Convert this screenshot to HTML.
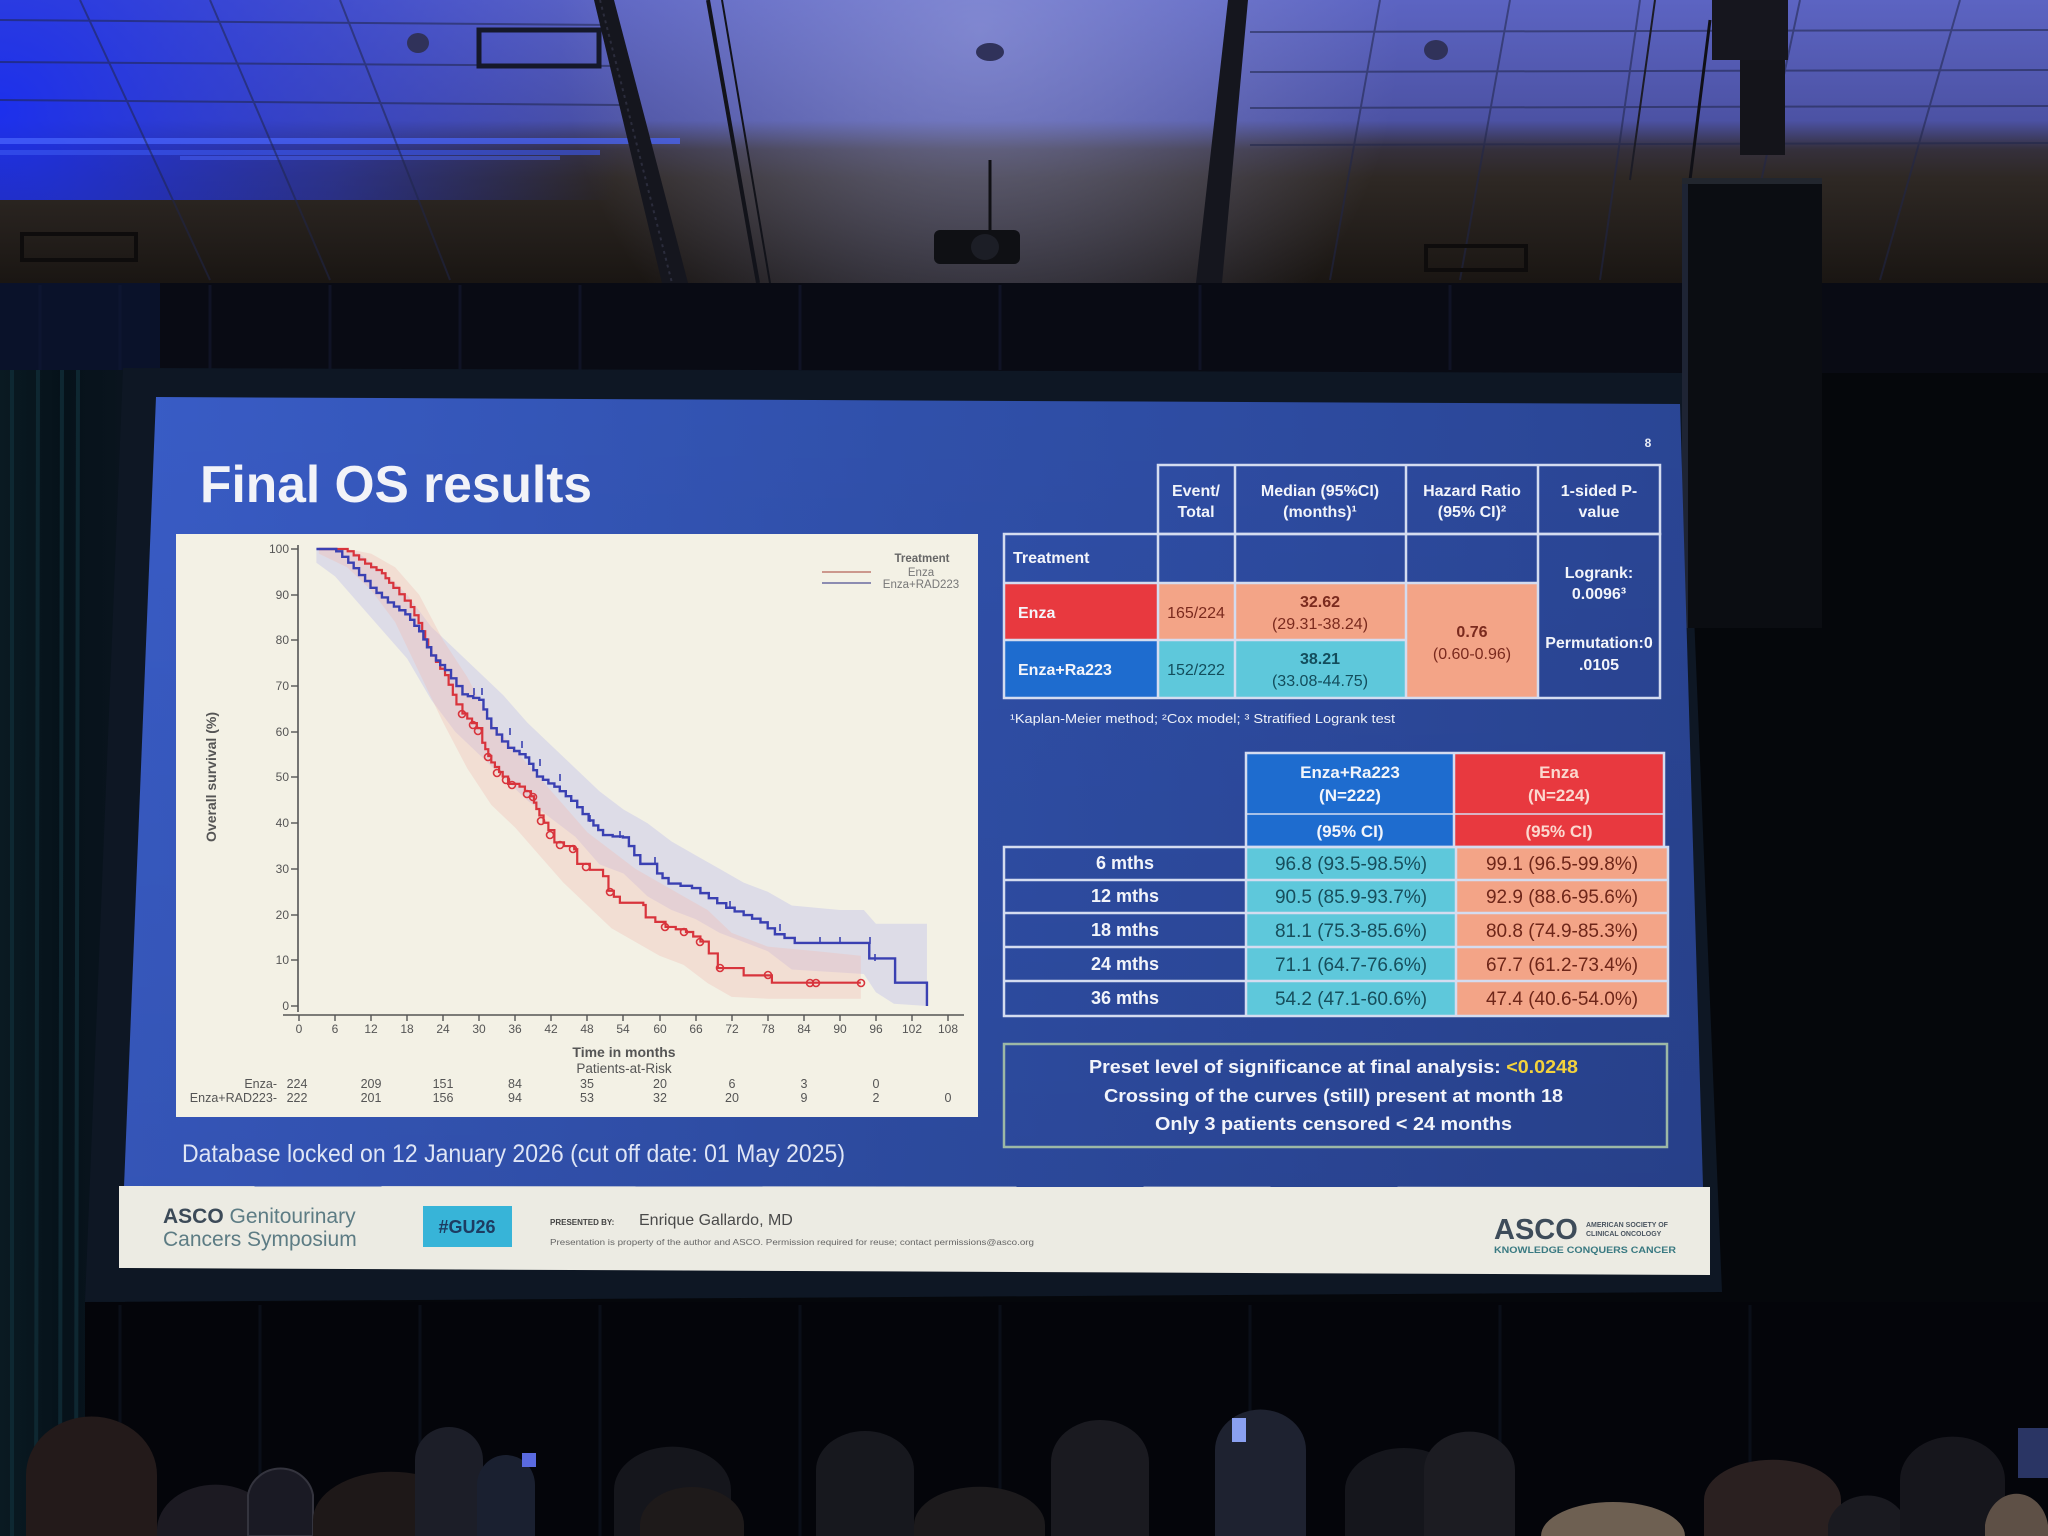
<!DOCTYPE html>
<html>
<head>
<meta charset="utf-8">
<style>
  html,body{margin:0;padding:0;background:#05070b;}
  svg{display:block;}
  text{font-family:"Liberation Sans", Arial, sans-serif;}
</style>
</head>
<body>
<svg width="2048" height="1536" viewBox="0 0 2048 1536" xmlns="http://www.w3.org/2000/svg">
<defs>
  <linearGradient id="ceil" x1="0" y1="0" x2="0" y2="1">
    <stop offset="0" stop-color="#5c64c2"/>
    <stop offset="0.42" stop-color="#4c52a4"/>
    <stop offset="0.52" stop-color="#35303c"/>
    <stop offset="0.62" stop-color="#2e2824"/>
    <stop offset="1" stop-color="#191512"/>
  </linearGradient>
  <radialGradient id="leftBlue" cx="0" cy="110" r="620" gradientUnits="userSpaceOnUse">
    <stop offset="0" stop-color="#1a2ef0" stop-opacity="0.95"/>
    <stop offset="0.55" stop-color="#2a3ad8" stop-opacity="0.55"/>
    <stop offset="1" stop-color="#2a3ad8" stop-opacity="0"/>
  </radialGradient>
  <radialGradient id="midLight" cx="980" cy="30" r="420" gradientUnits="userSpaceOnUse">
    <stop offset="0" stop-color="#a0a6e0" stop-opacity="0.55"/>
    <stop offset="1" stop-color="#a0a6e0" stop-opacity="0"/>
  </radialGradient>
  <linearGradient id="slideBlue" x1="0" y1="0" x2="1" y2="0">
    <stop offset="0" stop-color="#395cc6"/>
    <stop offset="0.5" stop-color="#3050aa"/>
    <stop offset="1" stop-color="#2a4594"/>
  </linearGradient>
  <linearGradient id="slideV" x1="0" y1="0" x2="0" y2="1">
    <stop offset="0" stop-color="#000" stop-opacity="0"/>
    <stop offset="1" stop-color="#000" stop-opacity="0.08"/>
  </linearGradient>
  <linearGradient id="curtL" x1="0" y1="0" x2="1" y2="0">
    <stop offset="0" stop-color="#0a1a22"/>
    <stop offset="0.5" stop-color="#06121a"/>
    <stop offset="1" stop-color="#0a141e"/>
  </linearGradient>
</defs>

<!-- base background -->
<rect x="0" y="0" width="2048" height="1536" fill="#05070b"/>

<!-- ceiling -->
<rect x="0" y="0" width="2048" height="287" fill="url(#ceil)"/>
<rect x="0" y="0" width="2048" height="287" fill="url(#midLight)"/>
<rect x="0" y="0" width="900" height="200" fill="url(#leftBlue)"/>
<!-- glare streaks -->
<rect x="0" y="138" width="680" height="6" fill="#4a66ff" opacity="0.7"/>
<rect x="0" y="150" width="600" height="5" fill="#3c58f0" opacity="0.6"/>
<rect x="180" y="156" width="380" height="4" fill="#4a66ff" opacity="0.5"/>
<!-- ceiling tile lines -->
<g stroke="#20264a" stroke-width="2" opacity="0.55">
  <line x1="0" y1="20" x2="610" y2="25"/>
  <line x1="0" y1="62" x2="620" y2="66"/>
  <line x1="0" y1="100" x2="620" y2="105"/>
  <line x1="1250" y1="32" x2="2048" y2="30"/>
  <line x1="1250" y1="72" x2="2048" y2="70"/>
  <line x1="1250" y1="108" x2="2048" y2="106"/>
  <line x1="1250" y1="145" x2="2048" y2="143"/>
  <line x1="80" y1="0" x2="210" y2="280"/>
  <line x1="210" y1="0" x2="330" y2="280"/>
  <line x1="340" y1="0" x2="450" y2="280"/>
  <line x1="1380" y1="0" x2="1330" y2="280"/>
  <line x1="1510" y1="0" x2="1460" y2="280"/>
  <line x1="1640" y1="0" x2="1600" y2="280"/>
  <line x1="1800" y1="0" x2="1740" y2="280"/>
  <line x1="1960" y1="0" x2="1880" y2="280"/>
</g>
<!-- ceiling fixtures -->
<rect x="479" y="30" width="120" height="36" fill="none" stroke="#15182a" stroke-width="5"/>
<ellipse cx="418" cy="43" rx="11" ry="10" fill="#30325a"/>
<ellipse cx="990" cy="52" rx="14" ry="9" fill="#30325a"/>
<ellipse cx="1436" cy="50" rx="12" ry="10" fill="#30325a"/>
<rect x="22" y="234" width="114" height="26" fill="none" stroke="#0e0c0c" stroke-width="4"/>
<rect x="1426" y="246" width="100" height="24" fill="none" stroke="#0e0c0c" stroke-width="4"/>
<!-- trusses -->
<path d="M594 0 L614 0 L688 283 L662 283 Z" fill="#15161e"/>
<g stroke="#3a3c50" stroke-width="2" opacity="0.6">
  <line x1="600" y1="0" x2="672" y2="283" stroke-dasharray="3 4"/>
</g>
<line x1="708" y1="0" x2="758" y2="283" stroke="#12131a" stroke-width="4"/>
<line x1="722" y1="0" x2="770" y2="283" stroke="#12131a" stroke-width="2"/>
<path d="M1228 0 L1248 0 L1222 283 L1196 283 Z" fill="#15161e"/>
<!-- projector -->
<line x1="990" y1="160" x2="990" y2="235" stroke="#101014" stroke-width="3"/>
<rect x="934" y="230" width="86" height="34" rx="6" fill="#0f1014"/>
<ellipse cx="985" cy="247" rx="14" ry="13" fill="#1c1e26"/>
<!-- hanging speaker top -->
<rect x="1712" y="0" width="76" height="60" fill="#16161e"/>
<rect x="1740" y="60" width="45" height="95" fill="#14141a"/>
<line x1="1710" y1="20" x2="1690" y2="180" stroke="#101016" stroke-width="3"/>
<line x1="1655" y1="0" x2="1630" y2="180" stroke="#1c1c26" stroke-width="2"/>

<!-- curtain band -->
<rect x="0" y="283" width="2048" height="90" fill="#090b14"/>
<g stroke="#12162a" stroke-width="3" opacity="0.8">
  <line x1="40" y1="285" x2="40" y2="370"/><line x1="120" y1="285" x2="120" y2="370"/>
  <line x1="210" y1="285" x2="210" y2="370"/><line x1="330" y1="285" x2="330" y2="370"/>
  <line x1="460" y1="285" x2="460" y2="370"/><line x1="580" y1="285" x2="580" y2="370"/>
  <line x1="800" y1="285" x2="800" y2="370"/><line x1="1000" y1="285" x2="1000" y2="370"/>
  <line x1="1200" y1="285" x2="1200" y2="370"/><line x1="1450" y1="285" x2="1450" y2="370"/>
</g>
<rect x="0" y="283" width="160" height="90" fill="#0c1838" opacity="0.6"/>

<!-- left curtain -->
<rect x="0" y="370" width="125" height="1166" fill="url(#curtL)"/>
<g stroke="#0f2a34" stroke-width="4" opacity="0.9">
  <line x1="12" y1="370" x2="12" y2="1536"/>
  <line x1="38" y1="370" x2="36" y2="1536"/>
  <line x1="62" y1="370" x2="60" y2="1536"/>
  <line x1="78" y1="370" x2="76" y2="1536"/>
</g>

<!-- screen frame -->
<polygon points="123,368 1684,373 1722,1292 85,1302" fill="#0e1724"/>

<!-- speaker column -->
<rect x="1682" y="178" width="140" height="450" fill="#0b0d12"/>
<rect x="1682" y="178" width="6" height="450" fill="#1e2434"/>
<rect x="1682" y="178" width="140" height="6" fill="#22262e"/>

<!-- bottom black curtain -->
<rect x="85" y="1302" width="1963" height="234" fill="#04050a"/>
<g stroke="#0a0e18" stroke-width="3">
  <line x1="120" y1="1305" x2="120" y2="1536"/><line x1="260" y1="1305" x2="260" y2="1536"/>
  <line x1="420" y1="1305" x2="420" y2="1536"/><line x1="600" y1="1305" x2="600" y2="1536"/>
  <line x1="800" y1="1305" x2="800" y2="1536"/><line x1="1000" y1="1305" x2="1000" y2="1536"/>
  <line x1="1250" y1="1305" x2="1250" y2="1536"/><line x1="1500" y1="1305" x2="1500" y2="1536"/>
  <line x1="1750" y1="1305" x2="1750" y2="1536"/>
</g>

<!-- SLIDE -->
<polygon points="156,397 1680,404 1703,1187 124,1187" fill="url(#slideBlue)"/>
<polygon points="156,397 1680,404 1703,1187 124,1187" fill="url(#slideV)"/>
<!-- footer -->
<polygon points="119,1186 1710,1187 1710,1275 119,1268" fill="#ecebe3"/>

<!-- Title -->
<text x="200" y="502" font-size="52" font-weight="bold" fill="#f2f3f8" textLength="392" lengthAdjust="spacingAndGlyphs">Final OS results</text>
<text x="1648" y="447" font-size="12" font-weight="bold" fill="#e8ecf6" text-anchor="middle">8</text>

<!-- CHART BOX -->
<rect x="176" y="534" width="802" height="583" fill="#f3f1e5"/>

<!-- confidence bands -->
<g transform="matrix(6.009,0,0,-4.57,299,1006)">
  <polygon fill="#b8b8ec" fill-opacity="0.36" points="2.9,100 6,100 10,99 14,95 18,90 22,83 26,78 30,73 34,68 38,62 42,57 46,52 50,47 54,43 58,40 62,36 66,33 70,30 74,27 78,25 82,22 90,21 94,21 96,18 104.5,18 104.5,0 99,0.5 96,3 94,7 82,8 78,12 74,14 70,16 66,19 62,21 58,24 54,29 50,31 46,37 42,41 38,45 34,50 30,55 26,60 22,67 18,76 14,82 10,88 6,94 2.9,97"/>
  <polygon fill="#f2bcb4" fill-opacity="0.36" points="3.3,100 8,100 12,99 16,96 20,90 24,80 28,72 32,62 36,56 40,50 44,44 48,38 52,34 56,30 60,27 64,24 68,21 72,16 78,13 86,12 93.5,11 93.5,1.6 86,1.6 78,1.6 72,2 68,5 64,9 60,11 56,14 52,17 48,22 44,27 40,33 36,39 32,44 28,52 24,62 20,73 16,84 12,91 8,96 3.3,99"/>
  <!-- red curve -->
  <path fill="none" stroke="#d8343c" stroke-width="2.2" vector-effect="non-scaling-stroke" d="M3.3 100 H8.1 V99.5 H9.1 V98.6 H10 V97.7 H11 V96.8 H12 V96 H12.9 V95.4 H13.8 V94.7 H14.4 V93.6 H15 V92.6 H15.7 V91.5 H16.7 V90.1 H17.6 V88.7 H18.6 V87.3 H19.2 V85.5 H19.9 V83.8 H20.5 V82 H21 V80.2 H21.5 V78.5 H22 V76.7 H22.8 V75.3 H23.5 V73.8 H24.3 V72.4 H24.9 V70.3 H25.6 V68.1 H26.2 V66 H27.2 V64 H28 V62.9 H28.8 V61.9 H29.6 V60.8 H30.5 V57.6 H31 V56.2 H31.5 V54.7 H32 V53.3 H32.6 V52.3 H33.3 V51.2 H33.9 V50.2 H34.8 V48.6 H36.7 V48 H37.6 V47 H38.6 V45.9 H39.1 V44.5 H39.5 V43.1 H40 V41.7 H40.7 V40.1 H41.5 V38.5 H42.5 V35.8 H44.1 V35 H45.8 V34.3 H46.3 V31.1 H48.4 V29.8 H50.6 V28.4 H51.5 V25.2 H52.4 V23.9 H53.4 V22.6 H57.3 V22.1 H57.7 V19.4 H59.3 V18.4 H61 V17.3 H62.7 V16.8 H64.4 V16.2 H65.6 V15.2 H66.8 V14.1 H68.2 V11.5 H69.7 V8.3 H74 V6.7 H78.7 V5.1 H93.5"/>
  <!-- blue curve -->
  <path fill="none" stroke="#3a40b2" stroke-width="2.4" vector-effect="non-scaling-stroke" d="M2.9 100 H6.2 V99.5 H7.2 V98.3 H8.2 V97 H9.1 V95.8 H10 V94.3 H11 V93 H11.9 V91.5 H12.9 V90.4 H13.8 V89.4 H14.8 V88.3 H15.8 V87.4 H16.7 V86.6 H17.7 V85.7 H18.5 V84.5 H19.2 V83.2 H20 V82 H20.7 V80.2 H21.3 V78.5 H22 V76.7 H22.8 V75.6 H23.5 V74.6 H24.3 V73.5 H25.3 V71.7 H26.2 V70 H27.2 V68.2 H28.1 V67.8 H29 V67.4 H30 V67 H30.7 V64.9 H31.3 V62.9 H32 V60.8 H32.9 V59.4 H33.8 V57.9 H34.8 V56.5 H35.8 V55.8 H36.7 V55.1 H37.7 V54.4 H38.3 V53 H39 V51.6 H39.6 V50.2 H40.6 V49.5 H41.5 V48.7 H42.5 V48 H43.4 V47 H44.4 V45.9 H45.3 V44.9 H46.3 V43.5 H47.2 V42 H48.2 V40.6 H49 V39.5 H49.8 V38.5 H50.6 V37.4 H52.2 V37.1 H53.9 V36.9 H54.9 V35 H55.8 V33 H56.8 V31.1 H59.6 V29 H60.5 V28 H61.5 V26.8 H63.5 V26.3 H65.4 V25.8 H66.8 V24.7 H68.2 V23.6 H69.6 V22.5 H71.1 V21.5 H72.5 V20.7 H74 V19.9 H75.4 V19.1 H76.8 V18.3 H78 V17 H79.2 V15.7 H80.8 V14.9 H82.5 V13.8 H94.9 V10.4 H99.2 V5.1 H104.5 V0"/>
</g>
<!-- red censor markers -->
<g fill="none" stroke="#d8343c" stroke-width="1.6">
  <circle cx="462" cy="714" r="3.5"/><circle cx="473" cy="725" r="3.5"/><circle cx="478" cy="731" r="3.5"/>
  <circle cx="488" cy="757" r="3.5"/><circle cx="497" cy="773" r="3.5"/><circle cx="506" cy="780" r="3.5"/>
  <circle cx="512" cy="785" r="3.5"/><circle cx="527" cy="794" r="3.5"/><circle cx="533" cy="797" r="3.5"/>
  <circle cx="541" cy="821" r="3.5"/><circle cx="550" cy="835" r="3.5"/><circle cx="560" cy="845" r="3.5"/>
  <circle cx="573" cy="849" r="3.5"/><circle cx="586" cy="867" r="3.5"/><circle cx="610" cy="892" r="3.5"/>
  <circle cx="665" cy="927" r="3.5"/><circle cx="684" cy="932" r="3.5"/><circle cx="700" cy="942" r="3.5"/>
  <circle cx="720" cy="968" r="3.5"/><circle cx="768" cy="975" r="3.5"/><circle cx="810" cy="983" r="3.5"/>
  <circle cx="816" cy="983" r="3.5"/><circle cx="861" cy="983" r="3.5"/>
</g>
<!-- blue censor tick marks -->
<g stroke="#3a40b2" stroke-width="1.6">
  <line x1="474" y1="695" x2="474" y2="688"/><line x1="482" y1="695" x2="482" y2="688"/>
  <line x1="510" y1="735" x2="510" y2="728"/><line x1="522" y1="748" x2="522" y2="741"/>
  <line x1="540" y1="766" x2="540" y2="759"/><line x1="560" y1="781" x2="560" y2="774"/>
  <line x1="590" y1="822" x2="590" y2="815"/><line x1="620" y1="838" x2="620" y2="831"/>
  <line x1="655" y1="864" x2="655" y2="857"/><line x1="730" y1="908" x2="730" y2="901"/>
  <line x1="780" y1="931" x2="780" y2="924"/><line x1="820" y1="944" x2="820" y2="937"/>
  <line x1="840" y1="944" x2="840" y2="937"/><line x1="870" y1="944" x2="870" y2="937"/>
  <line x1="875" y1="961" x2="875" y2="954"/>
</g>

<!-- axes -->
<g stroke="#555" stroke-width="1.6" fill="none">
  <line x1="298" y1="545" x2="298" y2="1012"/>
  <line x1="283" y1="1015" x2="964" y2="1015"/>
</g>
<g stroke="#555" stroke-width="1.4">
  <line x1="291" y1="549" x2="298" y2="549"/><line x1="291" y1="595" x2="298" y2="595"/>
  <line x1="291" y1="640" x2="298" y2="640"/><line x1="291" y1="686" x2="298" y2="686"/>
  <line x1="291" y1="732" x2="298" y2="732"/><line x1="291" y1="777" x2="298" y2="777"/>
  <line x1="291" y1="823" x2="298" y2="823"/><line x1="291" y1="869" x2="298" y2="869"/>
  <line x1="291" y1="915" x2="298" y2="915"/><line x1="291" y1="960" x2="298" y2="960"/>
  <line x1="291" y1="1006" x2="298" y2="1006"/>
  <line x1="299" y1="1015" x2="299" y2="1021"/><line x1="335" y1="1015" x2="335" y2="1021"/>
  <line x1="371" y1="1015" x2="371" y2="1021"/><line x1="407" y1="1015" x2="407" y2="1021"/>
  <line x1="443" y1="1015" x2="443" y2="1021"/><line x1="479" y1="1015" x2="479" y2="1021"/>
  <line x1="515" y1="1015" x2="515" y2="1021"/><line x1="551" y1="1015" x2="551" y2="1021"/>
  <line x1="587" y1="1015" x2="587" y2="1021"/><line x1="623" y1="1015" x2="623" y2="1021"/>
  <line x1="660" y1="1015" x2="660" y2="1021"/><line x1="696" y1="1015" x2="696" y2="1021"/>
  <line x1="732" y1="1015" x2="732" y2="1021"/><line x1="768" y1="1015" x2="768" y2="1021"/>
  <line x1="804" y1="1015" x2="804" y2="1021"/><line x1="840" y1="1015" x2="840" y2="1021"/>
  <line x1="876" y1="1015" x2="876" y2="1021"/><line x1="912" y1="1015" x2="912" y2="1021"/>
  <line x1="948" y1="1015" x2="948" y2="1021"/>
</g>
<g font-size="12" fill="#555" text-anchor="end">
  <text x="289" y="553">100</text><text x="289" y="599">90</text><text x="289" y="644">80</text>
  <text x="289" y="690">70</text><text x="289" y="736">60</text><text x="289" y="781">50</text>
  <text x="289" y="827">40</text><text x="289" y="873">30</text><text x="289" y="919">20</text>
  <text x="289" y="964">10</text><text x="289" y="1010">0</text>
</g>
<g font-size="12" fill="#555" text-anchor="middle">
  <text x="299" y="1033">0</text><text x="335" y="1033">6</text><text x="371" y="1033">12</text>
  <text x="407" y="1033">18</text><text x="443" y="1033">24</text><text x="479" y="1033">30</text>
  <text x="515" y="1033">36</text><text x="551" y="1033">42</text><text x="587" y="1033">48</text>
  <text x="623" y="1033">54</text><text x="660" y="1033">60</text><text x="696" y="1033">66</text>
  <text x="732" y="1033">72</text><text x="768" y="1033">78</text><text x="804" y="1033">84</text>
  <text x="840" y="1033">90</text><text x="876" y="1033">96</text><text x="912" y="1033">102</text>
  <text x="948" y="1033">108</text>
</g>
<text x="624" y="1057" font-size="14" font-weight="bold" fill="#555" text-anchor="middle">Time in months</text>
<text x="624" y="1073" font-size="13.5" fill="#555" text-anchor="middle">Patients-at-Risk</text>
<text transform="translate(216,777) rotate(-90)" font-size="14" font-weight="bold" fill="#555" text-anchor="middle">Overall survival (%)</text>
<!-- risk table -->
<g font-size="12.5" fill="#555">
  <text x="277" y="1088" text-anchor="end">Enza-</text>
  <text x="277" y="1102" text-anchor="end">Enza+RAD223-</text>
</g>
<g font-size="12.5" fill="#555" text-anchor="middle">
  <text x="297" y="1088">224</text><text x="371" y="1088">209</text><text x="443" y="1088">151</text>
  <text x="515" y="1088">84</text><text x="587" y="1088">35</text><text x="660" y="1088">20</text>
  <text x="732" y="1088">6</text><text x="804" y="1088">3</text><text x="876" y="1088">0</text>
  <text x="297" y="1102">222</text><text x="371" y="1102">201</text><text x="443" y="1102">156</text>
  <text x="515" y="1102">94</text><text x="587" y="1102">53</text><text x="660" y="1102">32</text>
  <text x="732" y="1102">20</text><text x="804" y="1102">9</text><text x="876" y="1102">2</text>
  <text x="948" y="1102">0</text>
</g>
<!-- legend -->
<text x="922" y="562" font-size="11.5" font-weight="bold" fill="#666" text-anchor="middle">Treatment</text>
<text x="921" y="576" font-size="11.5" fill="#777" text-anchor="middle">Enza</text>
<text x="921" y="588" font-size="11.5" fill="#777" text-anchor="middle">Enza+RAD223</text>
<line x1="822" y1="572" x2="871" y2="572" stroke="#c07a70" stroke-width="1.5"/>
<line x1="822" y1="583" x2="871" y2="583" stroke="#6a6aa0" stroke-width="1.5"/>

<!-- Database text -->
<text x="182" y="1162" font-size="25" fill="#dfe5f5" textLength="663" lengthAdjust="spacingAndGlyphs">Database locked on 12 January 2026 (cut off date: 01 May 2025)</text>

<!-- TOP TABLE -->
<rect x="1004" y="583" width="154" height="57" fill="#e8393f"/>
<rect x="1004" y="640" width="154" height="58" fill="#1e6ccf"/>
<rect x="1158" y="583" width="248" height="57" fill="#f3a487"/>
<rect x="1158" y="640" width="248" height="58" fill="#5ec8db"/>
<rect x="1406" y="583" width="132" height="115" fill="#f3a487"/>
<g stroke="#d4dcf0" stroke-width="2.5" fill="none">
  <rect x="1158" y="465" width="502" height="69"/>
  <rect x="1004" y="534" width="656" height="164"/>
  <line x1="1235" y1="465" x2="1235" y2="698"/>
  <line x1="1406" y1="465" x2="1406" y2="698"/>
  <line x1="1538" y1="465" x2="1538" y2="698"/>
  <line x1="1158" y1="534" x2="1158" y2="698"/>
  <line x1="1004" y1="583" x2="1538" y2="583"/>
  <line x1="1004" y1="640" x2="1406" y2="640"/>
</g>
<g font-size="16" font-weight="bold" fill="#f2f4fa" text-anchor="middle">
  <text x="1196" y="496">Event/</text><text x="1196" y="517">Total</text>
  <text x="1320" y="496">Median (95%CI)</text><text x="1320" y="517">(months)¹</text>
  <text x="1472" y="496">Hazard Ratio</text><text x="1472" y="517">(95% CI)²</text>
  <text x="1599" y="496">1-sided P-</text><text x="1599" y="517">value</text>
  <text x="1599" y="578">Logrank:</text><text x="1599" y="599">0.0096³</text>
  <text x="1599" y="648">Permutation:0</text><text x="1599" y="670">.0105</text>
</g>
<g font-size="16" font-weight="bold" fill="#f4f5fa">
  <text x="1013" y="563">Treatment</text>
  <text x="1018" y="618">Enza</text>
  <text x="1018" y="675">Enza+Ra223</text>
</g>
<g font-size="16" text-anchor="middle">
  <text x="1196" y="618" fill="#7a2a1e">165/224</text>
  <text x="1320" y="607" fill="#7a2a1e" font-weight="bold">32.62</text>
  <text x="1320" y="629" fill="#7a2a1e">(29.31-38.24)</text>
  <text x="1196" y="675" fill="#134d5c">152/222</text>
  <text x="1320" y="664" fill="#134d5c" font-weight="bold">38.21</text>
  <text x="1320" y="686" fill="#134d5c">(33.08-44.75)</text>
  <text x="1472" y="637" fill="#7a2a1e" font-weight="bold">0.76</text>
  <text x="1472" y="659" fill="#7a2a1e">(0.60-0.96)</text>
</g>
<text x="1010" y="723" font-size="13" fill="#eef1f8" textLength="385" lengthAdjust="spacingAndGlyphs">¹Kaplan-Meier method; ²Cox model; ³ Stratified Logrank test</text>

<!-- SECOND TABLE -->
<rect x="1246" y="753" width="208" height="95" fill="#1e6ccf"/>
<rect x="1454" y="753" width="210" height="95" fill="#e8393f"/>
<rect x="1246" y="847" width="210" height="169" fill="#5ec8db"/>
<rect x="1456" y="847" width="212" height="169" fill="#f3a487"/>
<g stroke="#d4dcf0" stroke-width="2.5" fill="none">
  <rect x="1246" y="753" width="418" height="94"/>
  <line x1="1454" y1="753" x2="1454" y2="847"/>
  <line x1="1246" y1="814" x2="1664" y2="814" stroke-width="1.5"/>
  <rect x="1004" y="847" width="664" height="169"/>
  <line x1="1004" y1="880" x2="1668" y2="880"/>
  <line x1="1004" y1="913" x2="1668" y2="913"/>
  <line x1="1004" y1="947" x2="1668" y2="947"/>
  <line x1="1004" y1="981" x2="1668" y2="981"/>
  <line x1="1246" y1="847" x2="1246" y2="1016"/>
  <line x1="1456" y1="847" x2="1456" y2="1016"/>
</g>
<g font-size="17" font-weight="bold" text-anchor="middle">
  <text x="1350" y="778" fill="#f2f5fb">Enza+Ra223</text>
  <text x="1350" y="801" fill="#f2f5fb">(N=222)</text>
  <text x="1350" y="837" fill="#f2f5fb">(95% CI)</text>
  <text x="1559" y="778" fill="#fbd8cf">Enza</text>
  <text x="1559" y="801" fill="#fbd8cf">(N=224)</text>
  <text x="1559" y="837" fill="#fbd8cf">(95% CI)</text>
</g>
<g font-size="18" font-weight="bold" fill="#f2f4fa" text-anchor="middle">
  <text x="1125" y="869">6 mths</text>
  <text x="1125" y="902">12 mths</text>
  <text x="1125" y="936">18 mths</text>
  <text x="1125" y="970">24 mths</text>
  <text x="1125" y="1004">36 mths</text>
</g>
<g font-size="19" fill="#174e5c" text-anchor="middle">
  <text x="1351" y="870">96.8 (93.5-98.5%)</text>
  <text x="1351" y="903">90.5 (85.9-93.7%)</text>
  <text x="1351" y="937">81.1 (75.3-85.6%)</text>
  <text x="1351" y="971">71.1 (64.7-76.6%)</text>
  <text x="1351" y="1005">54.2 (47.1-60.6%)</text>
</g>
<g font-size="19" fill="#6e2619" text-anchor="middle">
  <text x="1562" y="870">99.1 (96.5-99.8%)</text>
  <text x="1562" y="903">92.9 (88.6-95.6%)</text>
  <text x="1562" y="937">80.8 (74.9-85.3%)</text>
  <text x="1562" y="971">67.7 (61.2-73.4%)</text>
  <text x="1562" y="1005">47.4 (40.6-54.0%)</text>
</g>

<!-- bottom box -->
<rect x="1004" y="1044" width="663" height="103" fill="none" stroke="#9cb8a6" stroke-width="2.5"/>
<g font-size="18" font-weight="bold" fill="#f2f4fa">
  <text x="1089" y="1073" textLength="489" lengthAdjust="spacingAndGlyphs">Preset level of significance at final analysis: <tspan fill="#f3d23c">&lt;0.0248</tspan></text>
  <text x="1104" y="1102" textLength="459" lengthAdjust="spacingAndGlyphs">Crossing of the curves (still) present at month 18</text>
  <text x="1155" y="1130" textLength="357" lengthAdjust="spacingAndGlyphs">Only 3 patients censored &lt; 24 months</text>
</g>

<!-- FOOTER CONTENT -->
<text x="163" y="1223" font-size="21" fill="#3c4a58"><tspan font-weight="bold">ASCO</tspan><tspan fill="#5d7c84"> Genitourinary</tspan></text>
<text x="163" y="1246" font-size="21" fill="#5d7c84">Cancers Symposium</text>
<rect x="423" y="1206" width="89" height="41" fill="#37b4d8"/>
<text x="467" y="1233" font-size="18" font-weight="bold" fill="#1d3c62" text-anchor="middle">#GU26</text>
<text x="550" y="1225" font-size="8" font-weight="bold" fill="#444">PRESENTED BY:</text>
<text x="639" y="1225" font-size="16" fill="#4a4a4a">Enrique Gallardo, MD</text>
<text x="550" y="1245" font-size="8" fill="#666" textLength="484" lengthAdjust="spacingAndGlyphs">Presentation is property of the author and ASCO. Permission required for reuse; contact permissions@asco.org</text>
<text x="1494" y="1239" font-size="29" font-weight="bold" fill="#3e4c5a">ASCO</text>
<text x="1586" y="1227" font-size="7" font-weight="bold" fill="#4a5560">AMERICAN SOCIETY OF</text>
<text x="1586" y="1236" font-size="7" font-weight="bold" fill="#4a5560">CLINICAL ONCOLOGY</text>
<text x="1494" y="1253" font-size="9" font-weight="bold" fill="#3a7a82" textLength="182" lengthAdjust="spacingAndGlyphs">KNOWLEDGE CONQUERS CANCER</text>

<!-- AUDIENCE -->
<g>
  <path d="M26 1536 V1475 A65 58 0 0 1 157 1475 V1536 Z" fill="#231a1a"/>
  <path d="M157 1536 V1530 A58 45 0 0 1 274 1530 V1536 Z" fill="#1c1a22"/>
  <path d="M248 1536 V1495 A33 32 0 0 1 313 1495 V1536 Z" fill="#1a1a24" stroke="#34343e" stroke-width="2"/>
  <path d="M313 1536 V1520 A78 48 0 0 1 470 1520 V1536 Z" fill="#1e1818"/>
  <path d="M415 1536 V1460 A34 33 0 0 1 483 1460 V1536 Z" fill="#1c1e28"/>
  <path d="M477 1536 V1485 A29 30 0 0 1 535 1485 V1536 Z" fill="#1a2030"/>
  <rect x="522" y="1453" width="14" height="14" fill="#5a6ae0"/>
  <path d="M614 1536 V1490 A58 43 0 0 1 731 1490 V1536 Z" fill="#15161c"/>
  <path d="M640 1536 V1525 A52 38 0 0 1 744 1525 V1536 Z" fill="#1e1a1a"/>
  <path d="M816 1536 V1470 A49 39 0 0 1 914 1470 V1536 Z" fill="#17181e"/>
  <path d="M914 1536 V1525 A65 38 0 0 1 1045 1525 V1536 Z" fill="#1c1a1c"/>
  <path d="M1051 1536 V1462 A49 42 0 0 1 1149 1462 V1536 Z" fill="#1a1a20"/>
  <path d="M1215 1536 V1450 A45 40 0 0 1 1306 1450 V1536 Z" fill="#1e2230"/>
  <rect x="1232" y="1418" width="14" height="24" fill="#8aa0f0"/>
  <path d="M1345 1536 V1490 A59 42 0 0 1 1463 1490 V1536 Z" fill="#15161c"/>
  <path d="M1424 1536 V1470 A45 38 0 0 1 1515 1470 V1536 Z" fill="#1c1c22"/>
  <path d="M1704 1536 V1500 A68 40 0 0 1 1841 1500 V1536 Z" fill="#2a2020"/>
  <path d="M1828 1536 V1525 A40 35 0 0 1 1907 1525 V1536 Z" fill="#1a1a20"/>
  <path d="M1900 1536 V1480 A52 43 0 0 1 2005 1480 V1536 Z" fill="#16161c"/>
  <path d="M1985 1536 V1525 A32 38 0 0 1 2048 1525 V1536 Z" fill="#5e5046"/>
  <rect x="2018" y="1428" width="30" height="50" fill="#3a4a8a" opacity="0.7"/>
</g>
<ellipse cx="1613" cy="1536" rx="72" ry="34" fill="#6e6052"/>
</svg>
</body>
</html>
